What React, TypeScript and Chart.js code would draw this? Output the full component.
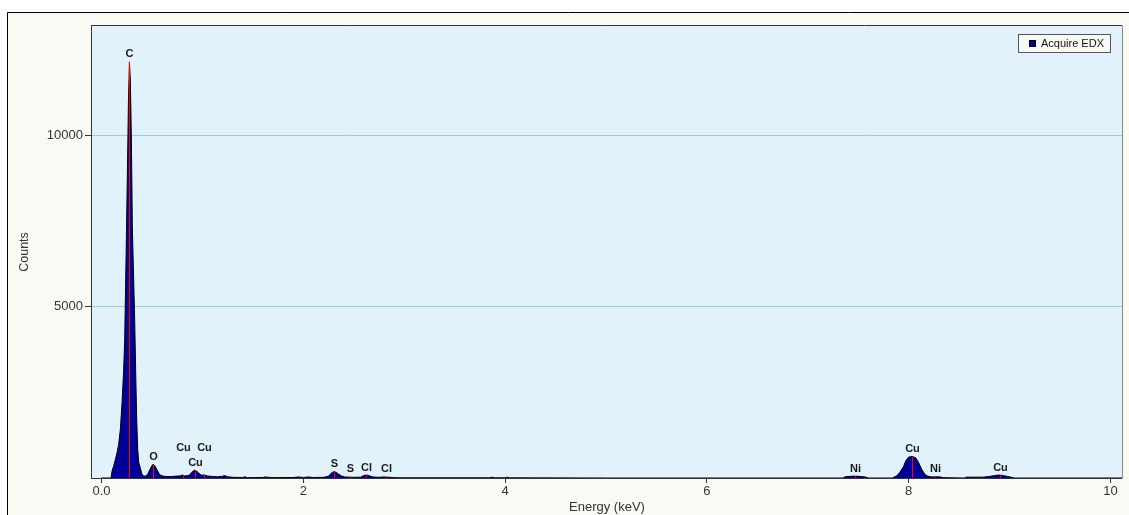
import React, { useEffect, useRef } from 'react';
import { Chart, registerables } from 'chart.js';

Chart.register(...registerables);

// Spectrum (energy in keV, counts)
const energyKeV = [
  0.0, 0.095, 0.105, 0.121, 0.138, 0.155, 0.17, 0.187, 0.204, 0.22, 0.23, 0.244,
  0.257, 0.267, 0.277, 0.286, 0.296, 0.306, 0.329, 0.339, 0.349, 0.359, 0.369, 0.386,
  0.4, 0.42, 0.44, 0.46,
  0.48, 0.5, 0.51, 0.53, 0.55, 0.57, 0.59, 0.62, 0.66, 0.7, 0.74, 0.78,
  0.8, 0.82, 0.86, 0.88, 0.9, 0.92, 0.94, 0.96, 0.98, 1.0, 1.02, 1.05,
  1.1, 1.15, 1.2, 1.22, 1.25, 1.3, 1.4, 1.42, 1.45, 1.6, 1.62, 1.7,
  1.9, 1.95, 2.0, 2.05, 2.1, 2.2, 2.25, 2.27, 2.29, 2.31, 2.33, 2.35,
  2.38, 2.41, 2.46, 2.5, 2.57, 2.6, 2.62, 2.64, 2.66, 2.69, 2.75, 2.8,
  2.84, 2.9, 3.0, 3.85, 3.87, 3.89, 4.0, 4.02, 4.04, 5.0, 7.35, 7.37,
  7.45, 7.5, 7.57, 7.6, 7.84, 7.855, 7.88, 7.91, 7.95, 7.97, 8.0, 8.02,
  8.04, 8.06, 8.07, 8.1, 8.13, 8.16, 8.19, 8.23, 8.27, 8.32, 8.34, 8.55,
  8.57, 8.74, 8.8, 8.85, 8.89, 8.93, 8.98, 9.02, 9.05, 10.12,
];
const counts = [
  0, 0, 204, 349, 545, 748, 981, 1418, 2204, 3165, 4039, 6514,
  8931, 10970, 12143, 11610, 9950, 7300, 4621, 3078, 1709, 836, 457, 282,
  120, 50, 60, 120,
  250, 360, 400, 350, 240, 130, 70, 50, 40, 45, 55, 60,
  90, 60, 70, 110, 180, 225, 210, 150, 100, 80, 90, 60,
  45, 35, 50, 70, 35, 20, 15, 35, 10, 15, 30, 10,
  15, 30, 15, 30, 15, 20, 50, 120, 170, 185, 160, 110,
  60, 30, 25, 20, 25, 70, 85, 80, 55, 30, 20, 30,
  25, 10, 5, 5, 25, 5, 5, 25, 5, 0, 0, 35,
  55, 50, 30, 0, 0, 30, 58, 157, 340, 495, 612, 623,
  625, 600, 590, 440, 250, 110, 50, 30, 35, 30, 10, 0,
  25, 25, 45, 70, 87, 75, 45, 20, 0, 0,
];

const xTicks = [0, 2, 4, 6, 8, 10];
const yTicks = [5000, 10000];

// Element marker lines
const markerEnergies = [0.277, 0.515, 0.928, 0.811, 1.012, 2.307, 2.464, 2.622, 2.815, 7.472, 8.036, 8.265, 8.9];
const markerLabels = ['C', 'O', 'Cu', 'Cu', 'Cu', 'S', 'S', 'Cl', 'Cl', 'Ni', 'Cu', 'Ni', 'Cu'];

const seriesLabel = 'Acquire EDX';

function valueAt(e: number): number {
  for (let i = 0; i < energyKeV.length - 1; i++) {
    const a = energyKeV[i];
    const b = energyKeV[i + 1];
    if (e >= a && e <= b) {
      const t = b === a ? 0 : (e - a) / (b - a);
      return counts[i] + t * (counts[i + 1] - counts[i]);
    }
  }
  return 0;
}

const decorPlugin = {
  id: 'edxDecor',
  beforeDraw(chart: any) {
    const { ctx, chartArea, width, height } = chart;
    ctx.save();
    ctx.fillStyle = '#fafaf4';
    ctx.fillRect(7, 12, width - 7, height - 12);
    ctx.strokeStyle = '#000000';
    ctx.lineWidth = 1;
    ctx.beginPath();
    ctx.moveTo(7.5, height);
    ctx.lineTo(7.5, 12.5);
    ctx.lineTo(width, 12.5);
    ctx.stroke();
    ctx.fillStyle = '#e2f2fa';
    ctx.fillRect(chartArea.left, chartArea.top, chartArea.right - chartArea.left, chartArea.bottom - chartArea.top);
    ctx.restore();
  },
  afterDatasetsDraw(chart: any) {
    const { ctx } = chart;
    const xs = chart.scales.x;
    const ys = chart.scales.y;
    const base = ys.getPixelForValue(0);
    ctx.save();
    ctx.font = 'bold 11px "Liberation Sans", Arial, sans-serif';
    ctx.textAlign = 'center';
    ctx.textBaseline = 'alphabetic';
    const placed: { x: number; y: number; w: number }[] = [];
    const h = 14;
    markerEnergies.forEach((e, i) => {
      const v = valueAt(e);
      const px = Math.round(xs.getPixelForValue(e)) + 0.5;
      const py = ys.getPixelForValue(v);
      ctx.strokeStyle = '#ff0000';
      ctx.lineWidth = 1;
      ctx.beginPath();
      ctx.moveTo(px, base);
      ctx.lineTo(px, py);
      ctx.stroke();
      const label = markerLabels[i];
      const w = ctx.measureText(label).width + 2;
      let cy = Math.min(py - 8.5, base - 10.5);
      let moved = true;
      let guard = 0;
      while (moved && guard < 20) {
        moved = false;
        guard++;
        for (const b of placed) {
          if (Math.abs(b.x - px) < (b.w + w) / 2 && Math.abs(b.y - cy) < h) {
            cy = b.y - h - 1;
            moved = true;
          }
        }
      }
      placed.push({ x: px, y: cy, w });
      ctx.fillStyle = '#1a1a1a';
      ctx.fillText(label, px, Math.round(cy + 4));
    });
    ctx.restore();
  },
  afterDraw(chart: any) {
    const { ctx, chartArea } = chart;
    ctx.save();
    ctx.lineWidth = 1;
    ctx.strokeStyle = '#333333';
    ctx.beginPath();
    ctx.moveTo(chartArea.left - 0.5, chartArea.bottom + 0.5);
    ctx.lineTo(chartArea.left - 0.5, chartArea.top - 0.5);
    ctx.lineTo(chartArea.right, chartArea.top - 0.5);
    ctx.moveTo(chartArea.left - 0.5, chartArea.bottom + 0.5);
    ctx.lineTo(chartArea.right, chartArea.bottom + 0.5);
    ctx.stroke();
    ctx.strokeStyle = '#888888';
    ctx.beginPath();
    ctx.moveTo(chartArea.right + 0.5, chartArea.top - 0.5);
    ctx.lineTo(chartArea.right + 0.5, chartArea.bottom + 0.5);
    ctx.stroke();

    // legend box
    const lw = 93;
    const lh = 19;
    const lx = Math.round(chartArea.right - 11 - lw);
    const ly = Math.round(chartArea.top + 8);
    ctx.fillStyle = '#fafaf4';
    ctx.fillRect(lx, ly, lw, lh);
    ctx.strokeStyle = '#555555';
    ctx.strokeRect(lx + 0.5, ly + 0.5, lw - 1, lh - 1);
    ctx.fillStyle = '#000099';
    ctx.fillRect(lx + 11, ly + 7, 6, 6);
    ctx.strokeStyle = '#000000';
    ctx.strokeRect(lx + 11.5, ly + 6.5, 6, 6);
    ctx.fillStyle = '#111111';
    ctx.font = '11px "Liberation Sans", Arial, sans-serif';
    ctx.textAlign = 'left';
    ctx.textBaseline = 'middle';
    ctx.fillText(seriesLabel, lx + 23, ly + 10);
    ctx.restore();
  },
};

export default function App() {
  const canvasRef = useRef<HTMLCanvasElement | null>(null);

  useEffect(() => {
    document.body.style.margin = '0';
    const canvas = canvasRef.current;
    if (!canvas) return;
    const points = energyKeV.map((e, i) => ({ x: e, y: counts[i] }));
    const axisFont = { family: '"Liberation Sans", Arial, sans-serif', size: 13 };
    const chart = new Chart(canvas, {
      type: 'line',
      data: {
        datasets: [
          {
            label: seriesLabel,
            data: points,
            fill: 'origin',
            backgroundColor: '#000099',
            borderColor: '#000000',
            borderWidth: 1,
            pointRadius: 0,
            tension: 0,
          },
        ],
      },
      options: {
        animation: false,
        responsive: true,
        maintainAspectRatio: false,
        layout: { padding: { top: 26, right: 7, bottom: 0, left: 0 } },
        plugins: {
          legend: { display: false },
          tooltip: { enabled: false },
        },
        scales: {
          x: {
            type: 'linear',
            min: -0.094,
            max: 10.114,
            afterBuildTicks: (scale: any) => {
              scale.ticks = xTicks.map((v) => ({ value: v }));
            },
            afterFit: (scale: any) => {
              scale.height = 37;
            },
            ticks: {
              autoSkip: false,
              maxRotation: 0,
              padding: 1,
              color: '#333333',
              font: axisFont,
              callback: (v: any) => (Number(v) === 0 ? '0.0' : String(v)),
            },
            grid: {
              drawOnChartArea: false,
              drawTicks: true,
              tickLength: 5,
              tickColor: '#333333',
            },
            border: { display: false },
            title: {
              display: true,
              text: 'Energy (keV)',
              color: '#333333',
              font: axisFont,
              padding: { top: 0, bottom: 0 },
            },
          },
          y: {
            type: 'linear',
            min: 0,
            max: 13190,
            afterBuildTicks: (scale: any) => {
              scale.ticks = yTicks.map((v) => ({ value: v }));
            },
            afterFit: (scale: any) => {
              scale.width = 92;
            },
            ticks: {
              padding: 2,
              color: '#333333',
              font: axisFont,
              callback: (v: any) => String(v),
            },
            grid: {
              color: '#94cfe6',
              lineWidth: 1,
              drawTicks: true,
              tickLength: 7,
              tickColor: '#333333',
            },
            border: { display: false },
            title: {
              display: true,
              text: 'Counts',
              color: '#333333',
              font: { family: '"Liberation Sans", Arial, sans-serif', size: 12.5 },
              padding: { top: 17, bottom: 0 },
            },
          },
        },
      },
      plugins: [decorPlugin],
    });
    return () => chart.destroy();
  }, []);

  return (
    <div style={{ position: 'fixed', left: 0, top: 0, width: 1129, height: 515 }}>
      <canvas ref={canvasRef} />
    </div>
  );
}
